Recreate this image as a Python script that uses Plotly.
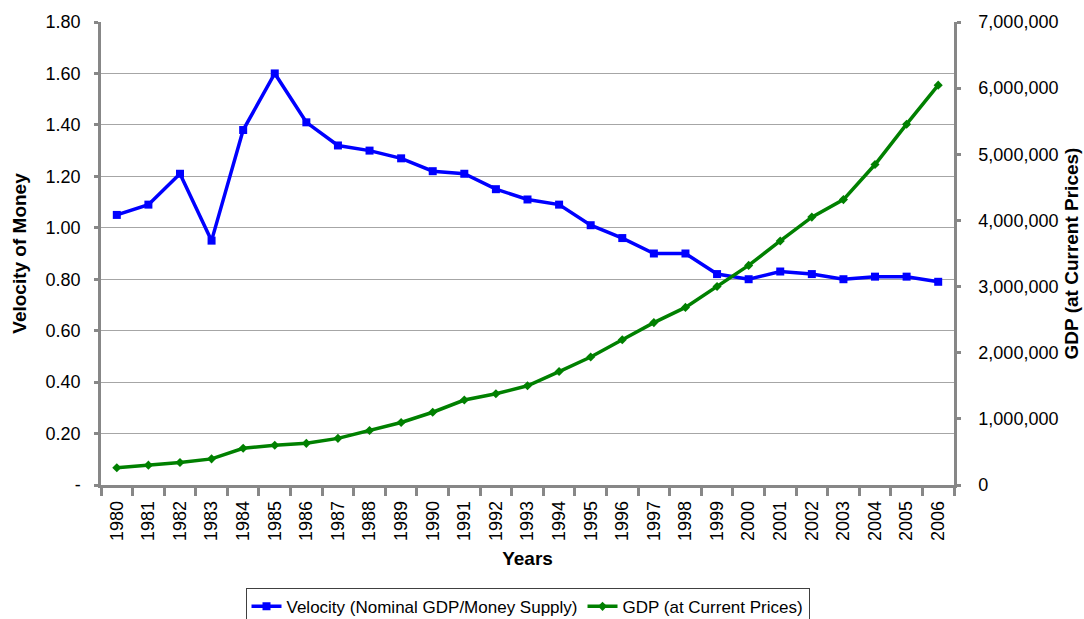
import plotly.graph_objects as go

# Annual series, 1980-2006
years = [str(y) for y in range(1980, 2007)]
velocity = [1.05, 1.09, 1.21, 0.95, 1.38, 1.60, 1.41, 1.32, 1.30, 1.27,
            1.22, 1.21, 1.15, 1.11, 1.09, 1.01, 0.96, 0.90, 0.90, 0.82,
            0.80, 0.83, 0.82, 0.80, 0.81, 0.81, 0.79]
gdp = [260000, 300000, 340000, 395000, 555000, 600000, 630000, 705000, 825000, 945000,
       1100000, 1285000, 1380000, 1500000, 1715000, 1935000, 2195000, 2455000, 2685000, 3000000,
       3320000, 3690000, 4050000, 4315000, 4845000, 5455000, 6045000]

left_ticks = [0, 0.2, 0.4, 0.6, 0.8, 1.0, 1.2, 1.4, 1.6, 1.8]
left_labels = ["-", "0.20", "0.40", "0.60", "0.80", "1.00", "1.20", "1.40", "1.60", "1.80"]
right_ticks = [0, 1000000, 2000000, 3000000, 4000000, 5000000, 6000000, 7000000]
right_labels = ["0", "1,000,000", "2,000,000", "3,000,000", "4,000,000",
                "5,000,000", "6,000,000", "7,000,000"]

FONT = "Liberation Sans, Arial, sans-serif"
AXIS_GRAY = "#878787"
TICK_SIZE = 18
TITLE_SIZE = 19

fig = go.Figure()
fig.add_trace(go.Scatter(
    x=years, y=velocity, name="Velocity (Nominal GDP/Money Supply)",
    mode="lines+markers",
    line=dict(color="#0000FF", width=3.5),
    marker=dict(symbol="square", size=8, color="#0000FF"),
))
fig.add_trace(go.Scatter(
    x=years, y=gdp, name="GDP (at Current Prices)", yaxis="y2",
    mode="lines+markers",
    line=dict(color="#008000", width=3.5),
    marker=dict(symbol="diamond", size=7, color="#008000"),
))

fig.update_layout(
    width=1084, height=619,
    margin=dict(l=101, r=130, t=22, b=134, autoexpand=False),
    paper_bgcolor="white", plot_bgcolor="white",
    font=dict(family=FONT, size=TICK_SIZE, color="black"),
    showlegend=True,
    legend=dict(
        orientation="h", x=0.5, xanchor="center", y=-0.222, yanchor="top",
        bordercolor="#404040", borderwidth=1, bgcolor="white",
        font=dict(family=FONT, size=17, color="black"),
        itemwidth=30, tracegroupgap=0,
    ),
    xaxis=dict(
        type="category", range=[-0.5, 26.5], automargin=False,
        tickson="boundaries", ticks="outside", ticklen=8, tickwidth=2.5,
        tickcolor=AXIS_GRAY, tickangle=-90, ticklabelstandoff=6,
        tickfont=dict(size=TICK_SIZE),
        showline=True, linecolor=AXIS_GRAY, linewidth=2.5,
        showgrid=False, zeroline=False,
        title=dict(text="<b>Years</b>", font=dict(size=TITLE_SIZE), standoff=12),
    ),
    yaxis=dict(
        range=[0, 1.8], tickvals=left_ticks, ticktext=left_labels, automargin=False,
        ticks="outside", ticklen=4, tickwidth=2.5, tickcolor=AXIS_GRAY,
        ticklabelstandoff=10, tickfont=dict(size=TICK_SIZE),
        showline=True, linecolor=AXIS_GRAY, linewidth=2.5,
        showgrid=True, gridcolor="#a6a6a6", gridwidth=1, zeroline=False,
        title=dict(text="<b>Velocity of Money</b>", font=dict(size=TITLE_SIZE), standoff=14),
    ),
    yaxis2=dict(
        range=[0, 7000000], tickvals=right_ticks, ticktext=right_labels, automargin=False,
        overlaying="y", side="right",
        ticks="outside", ticklen=4, tickwidth=2.5, tickcolor=AXIS_GRAY,
        ticklabelstandoff=14, tickfont=dict(size=TICK_SIZE),
        showline=True, linecolor=AXIS_GRAY, linewidth=2.5,
        showgrid=False, zeroline=False,
        title=dict(text="<b>GDP (at Current Prices)</b>", font=dict(size=TITLE_SIZE), standoff=8),
    ),
)

fig.write_html("out.html")
